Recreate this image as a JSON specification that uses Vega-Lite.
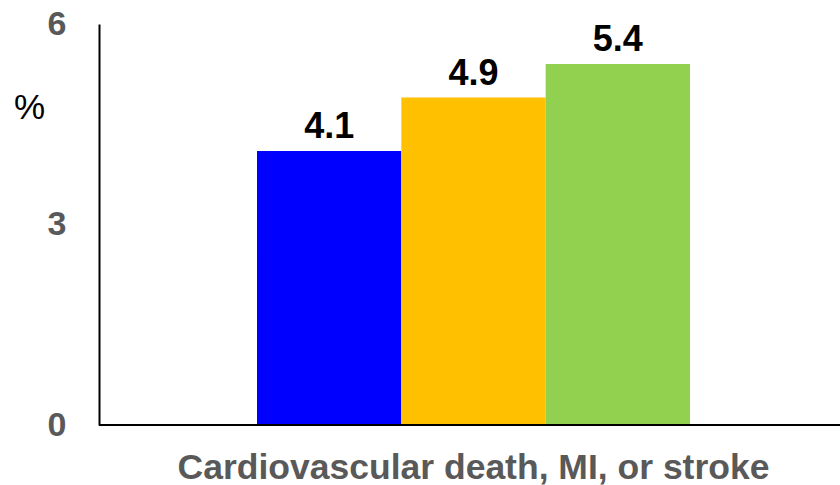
{
  "$schema": "https://vega.github.io/schema/vega-lite/v6.json",
  "width": 741,
  "height": 401,
  "autosize": {"type": "none"},
  "padding": {"left": 99, "top": 24, "right": 0, "bottom": 60},
  "background": "white",
  "config": {
    "view": {"stroke": null},
    "font": "Liberation Sans"
  },
  "data": {
    "values": [
      {"outcome": "Cardiovascular death, MI, or stroke", "group": "A", "value": 4.1},
      {"outcome": "Cardiovascular death, MI, or stroke", "group": "B", "value": 4.9},
      {"outcome": "Cardiovascular death, MI, or stroke", "group": "C", "value": 5.4}
    ]
  },
  "layer": [
    {
      "mark": {"type": "bar"},
      "encoding": {
        "x": {
          "field": "group",
          "type": "nominal",
          "scale": {"paddingInner": 0, "paddingOuter": 0, "range": [158, 591]},
          "axis": {
            "labels": false,
            "ticks": false,
            "domain": false,
            "title": "Cardiovascular death, MI, or stroke",
            "titleFont": "Liberation Sans",
            "titleFontSize": 35.5,
            "titleFontWeight": "bold",
            "titleColor": "#595959",
            "titleAlign": "center",
            "titleBaseline": "alphabetic",
            "titleX": 374,
            "titleY": 53
          }
        },
        "y": {
          "field": "value",
          "type": "quantitative",
          "scale": {"domain": [0, 6], "nice": false},
          "axis": {
            "values": [0, 3, 6],
            "format": "d",
            "grid": false,
            "ticks": false,
            "domainColor": "black",
            "domainWidth": 2,
            "labelFont": "Liberation Sans",
            "labelFontSize": 34,
            "labelFontWeight": "bold",
            "labelColor": "#595959",
            "labelPadding": 33,
            "title": "%",
            "titleAngle": 0,
            "titleFont": "Liberation Sans",
            "titleFontSize": 35,
            "titleFontWeight": "normal",
            "titleColor": "black",
            "titleAlign": "center",
            "titleBaseline": "middle",
            "titleX": -70,
            "titleY": 83.5
          }
        },
        "color": {
          "field": "group",
          "type": "nominal",
          "scale": {"domain": ["A", "B", "C"], "range": ["#0000FF", "#FFC000", "#92D050"]},
          "legend": null
        }
      }
    },
    {
      "mark": {"type": "text", "baseline": "alphabetic", "dy": -13, "fontSize": 36, "fontWeight": "bold", "color": "black", "font": "Liberation Sans"},
      "encoding": {
        "x": {"field": "group", "type": "nominal"},
        "y": {"field": "value", "type": "quantitative"},
        "text": {"field": "value", "type": "quantitative", "format": ".1f"}
      }
    },
    {
      "mark": {"type": "rule", "color": "black", "strokeWidth": 2},
      "encoding": {
        "y": {"datum": 0, "type": "quantitative"}
      }
    }
  ]
}
